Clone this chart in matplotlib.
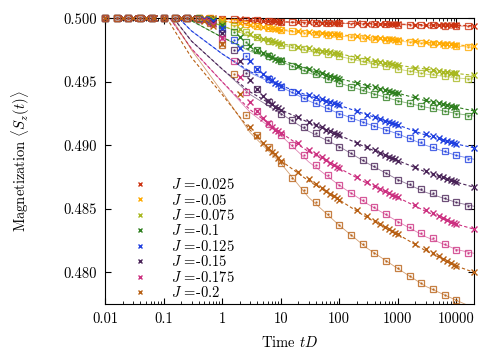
import numpy as np
import matplotlib
matplotlib.use("Agg")
import matplotlib.pyplot as plt
from matplotlib.ticker import LogLocator, NullFormatter

plt.rcParams["font.family"] = ["cmr10", "DejaVu Serif"]
plt.rcParams["mathtext.fontset"] = "cm"
plt.rcParams["axes.unicode_minus"] = False

# coupling values and colours
j_labels = ["-0.025", "-0.05", "-0.075", "-0.1", "-0.125", "-0.15", "-0.175", "-0.2"]
colors = ["#cc3311", "#ffaa00", "#a8b820", "#2f7f1f", "#1f3fe0", "#4a2458", "#cc3080", "#b86014"]

# times of the cross markers
t_cross = [0.01, 0.02, 0.03, 0.05, 0.07, 0.1, 0.2, 0.3, 0.5, 0.7,
           1, 2, 3, 4, 5, 6, 7, 8, 9,
           10, 20, 30, 40, 50, 60, 70, 80, 90,
           100, 200, 300, 400, 500, 600, 700, 800, 900,
           1000, 2000, 3000, 4000, 5000, 6000, 7000, 8000, 9000,
           10000, 20000]

m_cross = [
    [0.5, 0.5, 0.5, 0.5, 0.5, 0.5, 0.5, 0.5, 0.5, 0.49999,
     0.49997, 0.49991, 0.49987, 0.49983, 0.49980, 0.49978, 0.49976, 0.49975, 0.49973,
     0.49972, 0.49969, 0.49967, 0.49966, 0.49965, 0.49964, 0.49963, 0.49963, 0.49962,
     0.49962, 0.49959, 0.49958, 0.49957, 0.49956, 0.49955, 0.49954, 0.49954, 0.49953,
     0.49953, 0.49950, 0.49949, 0.49948, 0.49947, 0.49946, 0.49945, 0.49945, 0.49944,
     0.49944, 0.49941],
    [0.5, 0.5, 0.5, 0.5, 0.5, 0.5, 0.5, 0.5, 0.49999, 0.49996,
     0.49987, 0.49962, 0.49946, 0.49937, 0.49930, 0.49924, 0.49919, 0.49915, 0.49912,
     0.49910, 0.49898, 0.49891, 0.49886, 0.49882, 0.49879, 0.49876, 0.49874, 0.49872,
     0.49870, 0.49858, 0.49851, 0.49846, 0.49842, 0.49839, 0.49836, 0.49834, 0.49832,
     0.49830, 0.49818, 0.49811, 0.49806, 0.49802, 0.49799, 0.49796, 0.49794, 0.49792,
     0.49790, 0.49780],
    [0.5, 0.5, 0.5, 0.5, 0.5, 0.5, 0.5, 0.5, 0.49997, 0.49992,
     0.49972, 0.49916, 0.49879, 0.49855, 0.49840, 0.49827, 0.49817, 0.49810, 0.49805,
     0.49800, 0.49776, 0.49762, 0.49752, 0.49744, 0.49738, 0.49732, 0.49728, 0.49724,
     0.49720, 0.49693, 0.49677, 0.49666, 0.49657, 0.49650, 0.49644, 0.49639, 0.49634,
     0.49630, 0.49610, 0.49599, 0.49591, 0.49585, 0.49579, 0.49575, 0.49571, 0.49568,
     0.49565, 0.49550],
    [0.5, 0.5, 0.5, 0.5, 0.5, 0.5, 0.5, 0.5, 0.49995, 0.49985,
     0.49950, 0.49850, 0.49785, 0.49750, 0.49725, 0.49707, 0.49693, 0.49682, 0.49675,
     0.49670, 0.49626, 0.49601, 0.49583, 0.49569, 0.49557, 0.49547, 0.49539, 0.49532,
     0.49525, 0.49490, 0.49470, 0.49456, 0.49445, 0.49436, 0.49428, 0.49421, 0.49415,
     0.49410, 0.49377, 0.49358, 0.49344, 0.49333, 0.49324, 0.49317, 0.49311, 0.49305,
     0.49300, 0.49270],
    [0.5, 0.5, 0.5, 0.5, 0.5, 0.5, 0.5, 0.5, 0.49992, 0.49977,
     0.49922, 0.49766, 0.49664, 0.49600, 0.49560, 0.49532, 0.49510, 0.49492, 0.49480,
     0.49470, 0.49423, 0.49396, 0.49377, 0.49362, 0.49349, 0.49339, 0.49330, 0.49322,
     0.49315, 0.49268, 0.49241, 0.49222, 0.49207, 0.49194, 0.49184, 0.49175, 0.49167,
     0.49160, 0.49115, 0.49088, 0.49070, 0.49055, 0.49043, 0.49033, 0.49025, 0.49017,
     0.49010, 0.48980],
    [0.5, 0.5, 0.5, 0.5, 0.5, 0.5, 0.5, 0.5, 0.49989, 0.49966,
     0.49887, 0.49662, 0.49516, 0.49440, 0.49385, 0.49350, 0.49325, 0.49305, 0.49290,
     0.49280, 0.49220, 0.49185, 0.49160, 0.49140, 0.49124, 0.49111, 0.49099, 0.49089,
     0.49080, 0.49020, 0.48985, 0.48960, 0.48940, 0.48924, 0.48911, 0.48899, 0.48889,
     0.48880, 0.48829, 0.48799, 0.48778, 0.48761, 0.48748, 0.48736, 0.48726, 0.48718,
     0.48710, 0.48670],
    [0.5, 0.5, 0.5, 0.5, 0.5, 0.5, 0.5, 0.5, 0.49985, 0.49954,
     0.49847, 0.49540, 0.49342, 0.49270, 0.49215, 0.49175, 0.49145, 0.49122, 0.49110,
     0.49100, 0.49016, 0.48966, 0.48931, 0.48904, 0.48882, 0.48863, 0.48847, 0.48833,
     0.48820, 0.48751, 0.48710, 0.48682, 0.48659, 0.48641, 0.48626, 0.48612, 0.48601,
     0.48590, 0.48527, 0.48490, 0.48464, 0.48443, 0.48427, 0.48413, 0.48400, 0.48390,
     0.48380, 0.48340],
    [0.5, 0.5, 0.5, 0.5, 0.5, 0.5, 0.5, 0.5, 0.49980, 0.49940,
     0.49800, 0.49400, 0.49140, 0.49070, 0.49020, 0.48980, 0.48950, 0.48930, 0.48900,
     0.48880, 0.48787, 0.48732, 0.48693, 0.48663, 0.48639, 0.48618, 0.48600, 0.48584,
     0.48570, 0.48489, 0.48441, 0.48407, 0.48381, 0.48360, 0.48342, 0.48326, 0.48312,
     0.48300, 0.48225, 0.48181, 0.48149, 0.48125, 0.48105, 0.48089, 0.48074, 0.48061,
     0.48050, 0.48000],
]

# times of the square markers (five per decade)
t_square = [0.01, 0.0158, 0.0251, 0.0398, 0.0631, 0.1, 0.158, 0.251,
            0.398, 0.631, 1, 1.585, 2.512, 3.981, 6.31,
            10, 15.85, 25.12, 39.81, 63.1, 100, 158.5, 251.2, 398.1, 631,
            1000, 1585, 2512, 3981, 6310, 10000, 15849]

m_square = [
    [0.5, 0.5, 0.5, 0.5, 0.5, 0.5, 0.5, 0.5,
     0.5, 0.49999, 0.49997, 0.49993, 0.49988, 0.49983, 0.49977,
     0.49970, 0.49968, 0.49966, 0.49963, 0.49961, 0.49959, 0.49957, 0.49955, 0.49953, 0.49951,
     0.49949, 0.49947, 0.49945, 0.49943, 0.49941, 0.49939, 0.49936],
    [0.5, 0.5, 0.5, 0.5, 0.5, 0.5, 0.5, 0.5,
     0.5, 0.49998, 0.49987, 0.49972, 0.49952, 0.49935, 0.49920,
     0.49905, 0.49896, 0.49887, 0.49878, 0.49869, 0.49860, 0.49852, 0.49844, 0.49836, 0.49828,
     0.49820, 0.49812, 0.49804, 0.49796, 0.49788, 0.49780, 0.49770],
    [0.5, 0.5, 0.5, 0.5, 0.5, 0.5, 0.5, 0.5,
     0.49999, 0.49994, 0.49970, 0.49938, 0.49893, 0.49855, 0.49820,
     0.49790, 0.49772, 0.49754, 0.49736, 0.49718, 0.49700, 0.49680, 0.49660, 0.49640, 0.49620,
     0.49600, 0.49586, 0.49572, 0.49558, 0.49544, 0.49530, 0.49520],
    [0.5, 0.5, 0.5, 0.5, 0.5, 0.5, 0.5, 0.5,
     0.49998, 0.49990, 0.49947, 0.49890, 0.49810, 0.49750, 0.49700,
     0.49660, 0.49626, 0.49592, 0.49558, 0.49524, 0.49490, 0.49462, 0.49434, 0.49406, 0.49378,
     0.49350, 0.49330, 0.49310, 0.49290, 0.49270, 0.49250, 0.49230],
    [0.5, 0.5, 0.5, 0.5, 0.5, 0.5, 0.5, 0.5,
     0.49996, 0.49984, 0.49918, 0.49828, 0.49703, 0.49600, 0.49520,
     0.49460, 0.49418, 0.49376, 0.49334, 0.49292, 0.49250, 0.49218, 0.49186, 0.49154, 0.49122,
     0.49090, 0.49056, 0.49022, 0.48988, 0.48954, 0.48920, 0.48890],
    [0.5, 0.5, 0.5, 0.5, 0.5, 0.5, 0.5, 0.5,
     0.49994, 0.49978, 0.49882, 0.49752, 0.49572, 0.49440, 0.49340,
     0.49250, 0.49198, 0.49146, 0.49094, 0.49042, 0.48990, 0.48938, 0.48886, 0.48834, 0.48782,
     0.48730, 0.48694, 0.48658, 0.48622, 0.48586, 0.48550, 0.48520],
    [0.5, 0.5, 0.5, 0.5, 0.5, 0.5, 0.5, 0.5,
     0.49992, 0.49970, 0.49840, 0.49663, 0.49420, 0.49270, 0.49170,
     0.49080, 0.49001, 0.48922, 0.48843, 0.48764, 0.48685, 0.48628, 0.48571, 0.48514, 0.48457,
     0.48400, 0.48356, 0.48312, 0.48268, 0.48224, 0.48180, 0.48150],
    [0.5, 0.5, 0.5, 0.5, 0.5, 0.5, 0.5, 0.5,
     0.49990, 0.49960, 0.49790, 0.49560, 0.49240, 0.49080, 0.48990,
     0.48858, 0.48740, 0.48646, 0.48551, 0.48457, 0.48370, 0.48291, 0.48220, 0.48150, 0.48087,
     0.48031, 0.47969, 0.47913, 0.47866, 0.47825, 0.47780],
]

# fitted curves (dashed: crosses, thin: squares)
t_fit = [0.1, 0.3, 1, 3, 10, 30, 100, 300, 1000, 3000, 10000, 20000]

m_fit_cross = [
    [0.50030, 0.50010, 0.49995, 0.49980, 0.49972, 0.49967, 0.49962, 0.49958, 0.49953, 0.49949, 0.49944, 0.49941],
    [0.50060, 0.50020, 0.49980, 0.49940, 0.49910, 0.49890, 0.49870, 0.49850, 0.49830, 0.49810, 0.49790, 0.49780],
    [0.50100, 0.50020, 0.49940, 0.49860, 0.49800, 0.49760, 0.49720, 0.49675, 0.49630, 0.49600, 0.49565, 0.49550],
    [0.50120, 0.49980, 0.49850, 0.49750, 0.49670, 0.49600, 0.49525, 0.49470, 0.49410, 0.49350, 0.49300, 0.49270],
    [0.50120, 0.49900, 0.49720, 0.49580, 0.49470, 0.49390, 0.49315, 0.49240, 0.49160, 0.49080, 0.49010, 0.48980],
    [0.50100, 0.49820, 0.49600, 0.49420, 0.49280, 0.49180, 0.49080, 0.48980, 0.48880, 0.48790, 0.48710, 0.48670],
    [0.50070, 0.49760, 0.49500, 0.49280, 0.49100, 0.48950, 0.48820, 0.48700, 0.48590, 0.48480, 0.48380, 0.48340],
    [0.50040, 0.49690, 0.49400, 0.49120, 0.48880, 0.48720, 0.48570, 0.48430, 0.48300, 0.48170, 0.48050, 0.48000],
]

m_fit_square = [
    [0.50030, 0.50010, 0.49995, 0.49980, 0.49970, 0.49964, 0.49959, 0.49954, 0.49949, 0.49944, 0.49939, 0.49936],
    [0.50060, 0.50020, 0.49980, 0.49940, 0.49905, 0.49880, 0.49860, 0.49840, 0.49820, 0.49800, 0.49780, 0.49770],
    [0.50100, 0.50020, 0.49940, 0.49860, 0.49790, 0.49740, 0.49700, 0.49650, 0.49600, 0.49560, 0.49530, 0.49520],
    [0.50120, 0.49980, 0.49850, 0.49740, 0.49660, 0.49570, 0.49490, 0.49420, 0.49350, 0.49300, 0.49250, 0.49230],
    [0.50120, 0.49900, 0.49720, 0.49570, 0.49460, 0.49350, 0.49250, 0.49170, 0.49090, 0.49000, 0.48920, 0.48890],
    [0.50100, 0.49820, 0.49600, 0.49400, 0.49250, 0.49110, 0.48990, 0.48860, 0.48730, 0.48630, 0.48550, 0.48520],
    [0.50070, 0.49760, 0.49500, 0.49260, 0.49080, 0.48870, 0.48685, 0.48540, 0.48400, 0.48280, 0.48180, 0.48150],
    [0.50100, 0.49750, 0.49420, 0.49100, 0.48860, 0.48590, 0.48370, 0.48190, 0.48030, 0.47890, 0.47780, 0.47720],
]

fig = plt.figure(figsize=(5, 3.5), dpi=100)
ax = fig.add_axes([0.21, 0.131, 0.738, 0.817])

for i, lab in enumerate(j_labels):
    c = colors[i]
    ax.plot(t_fit, m_fit_square[i], "-", color=c, lw=0.6, alpha=0.6, zorder=2)
    ax.plot(t_fit, m_fit_cross[i], "--", color=c, lw=0.8, dashes=(3, 2), zorder=2)
    ts = t_square[:len(m_square[i])]
    ax.plot(ts, m_square[i], "s", ms=4.5, mfc="none", mec=c, mew=0.9,
            alpha=0.8, clip_on=False, zorder=3)
    ax.plot(ts, m_square[i], ".", ms=1.5, color=c, alpha=0.8, clip_on=False, zorder=3)
    ax.plot(t_cross, m_cross[i], "x", ms=4, mew=1.0, color=c, clip_on=False,
            zorder=4, label=r"$J$ =" + lab)

ax.set_xscale("log")
ax.set_xlim(0.01, 20000)
ax.set_ylim(0.4775, 0.5)
ax.set_xticks([0.01, 0.1, 1, 10, 100, 1000, 10000])
ax.set_xticklabels(["0.01", "0.1", "1", "10", "100", "1000", "10000"])
ax.xaxis.set_minor_locator(LogLocator(base=10, subs=np.arange(2, 10)))
ax.xaxis.set_minor_formatter(NullFormatter())
yt = [0.480, 0.485, 0.490, 0.495, 0.500]
ax.set_yticks(yt)
ax.set_yticklabels(["%.3f" % v for v in yt])
ax.tick_params(which="both", direction="in", top=True, right=True, labelsize=10.5)
ax.tick_params(which="major", length=4, pad=6)
ax.tick_params(which="minor", length=2)

ax.set_xlabel(r"Time $tD$", fontsize=10.5, labelpad=6)
ax.set_ylabel(r"Magnetization $\langle S_z(t)\rangle$", fontsize=10.5, labelpad=22)

ax.legend(loc="lower left", bbox_to_anchor=(0.04, -0.032), frameon=False,
          handlelength=1.0, handletextpad=1.6, labelspacing=0.03, fontsize=10.5,
          markerscale=0.8)

fig.savefig("out.png", dpi=100)
